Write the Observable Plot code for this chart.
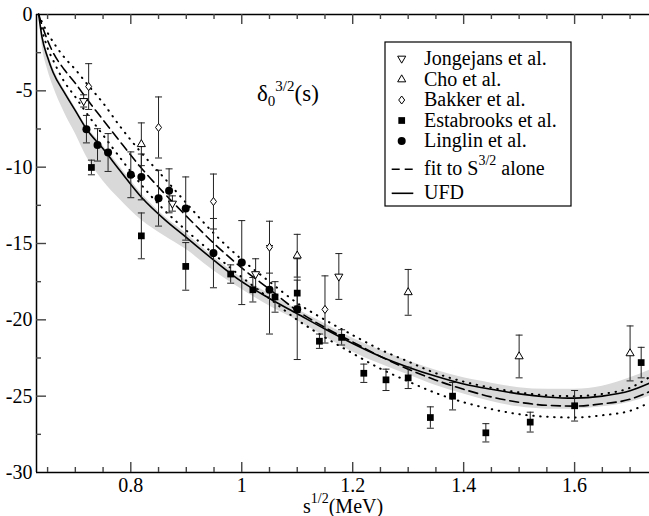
<!DOCTYPE html>
<html><head><meta charset="utf-8">
<script src="https://cdn.jsdelivr.net/npm/d3@7"></script>
<script src="https://cdn.jsdelivr.net/npm/@observablehq/plot@0.6"></script>
<style>
body{margin:0;background:white;}
#wrap{position:relative;width:649px;height:516px;}
#wrap svg{position:absolute;left:0;top:0;}
</style></head><body><div id="wrap"></div>
<script>
const W = 649, H = 516;
const mL = 36, mR = 0, mT = 14, mB = 44;
const plotW = W - mL - mR, plotH = H - mT - mB;
const FONT = "'Liberation Serif'";

const xDomain = [0.63, 1.735];
const yDomain = [-30, 0];
const xTickMajor = [0.8, 1, 1.2, 1.4, 1.6];
const xTickMinor = [0.65,0.7,0.75,0.85,0.9,0.95,1.05,1.1,1.15,1.25,1.3,1.35,1.45,1.5,1.55,1.65,1.7];
const yTickMajor = [-30,-25,-20,-15,-10,-5,0];
const yTickMinor = [-27.5,-22.5,-17.5,-12.5,-7.5,-2.5];

const seriesNames = ["Jongejans et al.", "Cho et al.", "Bakker et al.", "Estabrooks et al.", "Linglin et al."];
const curveNames = ["fit to S", "UFD"];

// data points
const jongX = [0.715, 0.875, 1.025, 1.175];
const jongY = [-5.66, -12.38, -17.0, -17.16];
const jongE = [0.4, 0.5, 1.0, 1.5];
const choX = [0.819, 1.10, 1.30, 1.50, 1.70];
const choY = [-8.5, -15.8, -18.2, -22.4, -22.2];
const choE = [1.4, 1.4, 1.5, 1.4, 1.8];
const bakX = [0.724, 0.85, 0.949, 1.05, 1.15];
const bakY = [-4.72, -7.4, -12.25, -15.24, -19.32];
const bakE = [1.5, 2.0, 1.8, 1.7, 2.2];
const estX = [0.729,0.819,0.899,0.98,1.02,1.06,1.10,1.14,1.18,1.22,1.26,1.30,1.34,1.38,1.44,1.52,1.60,1.72];
const estY = [-10.02,-14.5,-16.5,-17.0,-18.03,-18.5,-18.25,-21.4,-21.15,-23.5,-23.93,-23.8,-26.4,-25.0,-27.4,-26.7,-25.63,-22.8];
const estE = [0.48,1.5,1.56,0.6,0.8,1.0,0.85,0.47,0.5,0.6,0.7,0.7,0.7,0.9,0.6,0.65,1.0,1.0];
const linX = [0.72,0.74,0.759,0.80,0.819,0.85,0.869,0.899,0.949,1.0,1.05,1.10];
const linY = [-7.51,-8.54,-9.04,-10.5,-10.64,-12.03,-11.55,-12.71,-15.63,-16.25,-18.03,-19.3];
const linE = [0.9,1.06,1.24,1.5,1.5,1.83,1.44,2.07,2.27,2.75,2.9,3.3];

// curves on a shared x grid
const curveX  = [0.634,0.64,0.65,0.66,0.68,0.70,0.72,0.75,0.78,0.82,0.86,0.90,0.95,1.0,1.05,1.1,1.15,1.2,1.25,1.3,1.35,1.4,1.45,1.5,1.55,1.6,1.65,1.7,1.735];
const ufdY    = [0,-1.5,-2.8,-3.8,-5.1,-6.3,-7.5,-8.8,-10.2,-12.0,-13.4,-14.6,-16.1,-17.5,-18.6,-19.6,-20.6,-21.55,-22.4,-23.1,-23.7,-24.2,-24.55,-24.85,-25.05,-25.13,-25.0,-24.65,-24.15];
const ufdLo   = [0,-2.0,-3.6,-4.7,-6.4,-7.8,-9.3,-10.9,-12.1,-13.5,-14.5,-15.4,-16.8,-18.0,-19.1,-20.05,-21.1,-22.1,-22.9,-23.6,-24.3,-24.85,-25.35,-25.7,-25.85,-25.85,-25.7,-25.4,-25.0];
const ufdHi   = [0,-1.2,-2.5,-3.5,-4.9,-6.1,-7.3,-8.6,-9.95,-11.75,-13.2,-14.35,-15.9,-17.25,-18.3,-19.3,-20.25,-21.2,-22.0,-22.7,-23.3,-23.8,-24.15,-24.45,-24.55,-24.55,-24.35,-23.8,-23.3];
const fitY    = [0,-0.7,-1.7,-2.5,-3.6,-4.5,-5.5,-6.9,-8.3,-10.1,-11.7,-13.2,-15.0,-16.6,-18.0,-19.4,-20.5,-21.45,-22.4,-23.23,-23.95,-24.55,-25.05,-25.4,-25.6,-25.65,-25.5,-25.2,-24.7];
const fitHi   = [0,-0.5,-1.2,-1.8,-2.8,-3.6,-4.5,-5.8,-7.3,-9.1,-10.7,-12.35,-14.35,-16.05,-17.5,-18.9,-20.0,-21.0,-21.95,-22.73,-23.5,-24.05,-24.45,-24.75,-24.95,-25.0,-24.85,-24.45,-23.75];
const fitLo   = [0,-1.0,-2.2,-3.0,-4.4,-5.4,-6.45,-7.9,-9.35,-11.2,-12.8,-14.15,-15.7,-17.2,-18.6,-20.0,-21.15,-22.2,-23.2,-24.03,-24.8,-25.4,-25.85,-26.18,-26.35,-26.4,-26.25,-25.96,-25.42];

const pts = (xs, ys, es) => xs.map((x, i) => ({x, y: ys[i], e: es[i]}));
const jong = pts(jongX, jongY, jongE);
const cho = pts(choX, choY, choE);
const bak = pts(bakX, bakY, bakE);
const est = pts(estX, estY, estE);
const lin = pts(linX, linY, linE);
const allPts = [...jong, ...cho, ...bak, ...est, ...lin];

const curves = curveX.map((x, i) => ({x, ufd: ufdY[i], lo: ufdLo[i], hi: ufdHi[i], fit: fitY[i], fhi: fitHi[i], flo: fitLo[i]}));

const capSymbol = {draw(ctx) { ctx.moveTo(-3.5, 0); ctx.lineTo(3.5, 0); }};
const diamondSymbol = {draw(ctx) { ctx.moveTo(0, -4); ctx.lineTo(3, 0); ctx.lineTo(0, 4); ctx.lineTo(-3, 0); ctx.closePath(); }};

const barColor = "#222";
const tickColor = "#444";

const chart = Plot.plot({
  width: W, height: H,
  marginLeft: mL, marginRight: mR, marginTop: mT, marginBottom: mB,
  x: {domain: xDomain},
  y: {domain: yDomain},
  style: {fontSize: "20px", background: "white", color: "black"},
  marks: [
    Plot.areaY(curves, {x: "x", y1: "lo", y2: "hi", fill: "#d9d9d9", curve: "monotone-x"}),
    Plot.line(curves, {x: "x", y: "fhi", stroke: "black", strokeWidth: 2, strokeDasharray: "0.5,6.5", strokeLinecap: "round", curve: "monotone-x"}),
    Plot.line(curves, {x: "x", y: "flo", stroke: "black", strokeWidth: 2, strokeDasharray: "0.5,6.5", strokeLinecap: "round", curve: "monotone-x"}),
    Plot.line(curves, {x: "x", y: "fit", stroke: "black", strokeWidth: 1.6, strokeDasharray: "9,5", curve: "monotone-x"}),
    Plot.line(curves, {x: "x", y: "ufd", stroke: "black", strokeWidth: 1.6, curve: "monotone-x"}),
    // error bars
    Plot.ruleX(allPts, {x: "x", y1: d => d.y - d.e, y2: d => d.y + d.e, stroke: barColor, strokeWidth: 1}),
    Plot.dot(allPts, {x: "x", y: d => d.y + d.e, symbol: capSymbol, stroke: barColor, fill: "none", strokeWidth: 1, r: 3}),
    Plot.dot(allPts, {x: "x", y: d => d.y - d.e, symbol: capSymbol, stroke: barColor, fill: "none", strokeWidth: 1, r: 3}),
    // markers
    Plot.dot(jong, {x: "x", y: "y", symbol: "triangle", rotate: 180, r: 3, fill: "white", stroke: "black", strokeWidth: 1}),
    Plot.dot(cho, {x: "x", y: "y", symbol: "triangle", r: 3, fill: "white", stroke: "black", strokeWidth: 1}),
    Plot.dot(bak, {x: "x", y: "y", symbol: diamondSymbol, r: 3, fill: "white", stroke: "black", strokeWidth: 1}),
    Plot.dot(est, {x: "x", y: "y", symbol: "square", r: 3.8, fill: "black", stroke: "none"}),
    Plot.dot(lin, {x: "x", y: "y", symbol: "circle", r: 4, fill: "black", stroke: "none"}),
    // frame lines
    Plot.ruleY([yDomain[0]], {stroke: "black", strokeWidth: 1.5}),
    Plot.ruleY([yDomain[1]], {stroke: "black", strokeWidth: 1.5}),
    Plot.ruleX([xDomain[0]], {stroke: "black", strokeWidth: 1.5}),
    // inward ticks
    Plot.tickX(xTickMajor, {x: d => d, insetTop: plotH - 10, stroke: tickColor, strokeWidth: 1.4}),
    Plot.tickX(xTickMinor, {x: d => d, insetTop: plotH - 5, stroke: tickColor, strokeWidth: 1.4}),
    Plot.tickX(xTickMajor, {x: d => d, insetBottom: plotH - 10, stroke: tickColor, strokeWidth: 1.4}),
    Plot.tickX(xTickMinor, {x: d => d, insetBottom: plotH - 5, stroke: tickColor, strokeWidth: 1.4}),
    Plot.tickY(yTickMajor.slice(1, -1), {y: d => d, insetRight: plotW - 10, stroke: tickColor, strokeWidth: 1.4}),
    Plot.tickY(yTickMinor, {y: d => d, insetRight: plotW - 5, stroke: tickColor, strokeWidth: 1.4}),
    // labels
    Plot.axisX({ticks: xTickMajor, tickSize: 0, tickPadding: 5, tickFormat: d => String(d), label: null, fontSize: 20, fontFamily: FONT}),
    Plot.axisY({ticks: yTickMajor, tickSize: 0, tickPadding: 4, tickFormat: d => String(d), label: null, fontSize: 20, fontFamily: FONT})
  ]
});
document.getElementById("wrap").appendChild(chart);

// overlay: legend and annotations
const ov = d3.select("#wrap").append("svg")
  .attr("width", W).attr("height", H)
  .style("pointer-events", "none");

// annotation
const ann = ov.append("text").attr("x", 257).attr("y", 101).attr("font-size", 23).attr("font-family", FONT).attr("fill", "black");
ann.append("tspan").text("δ");
ann.append("tspan").attr("font-size", 15).attr("dy", 5).text("0");
ann.append("tspan").attr("font-size", 15).attr("dy", -15).text("3/2");
ann.append("tspan").attr("dy", 10).text("(s)");

// x axis title
const xt = ov.append("text").attr("x", 303).attr("y", 513).attr("font-size", 20).attr("font-family", FONT).attr("fill", "black");
xt.append("tspan").text("s");
xt.append("tspan").attr("font-size", 14).attr("dy", -10).text("1/2");
xt.append("tspan").attr("dy", 10).text("(MeV)");

// legend
const lg = ov.append("g").attr("transform", "translate(385,42)").attr("font-family", FONT);
lg.append("rect").attr("width", 186).attr("height", 164).attr("fill", "white").attr("stroke", "black").attr("stroke-width", 1.2);
const rowY = [16.5, 37.5, 58, 78.5, 99];
const symX = 16.7, txtX = 39;
const area = Math.PI * 9;
lg.append("path").attr("d", d3.symbol(d3.symbolTriangle, area)()).attr("transform", `translate(${symX},${rowY[0]}) rotate(180)`).attr("fill", "white").attr("stroke", "black");
lg.append("path").attr("d", d3.symbol(d3.symbolTriangle, area)()).attr("transform", `translate(${symX},${rowY[1]})`).attr("fill", "white").attr("stroke", "black");
lg.append("path").attr("d", "M0,-4L3,0L0,4L-3,0Z").attr("transform", `translate(${symX},${rowY[2]})`).attr("fill", "white").attr("stroke", "black");
lg.append("path").attr("d", d3.symbol(d3.symbolSquare, Math.PI * 3.8 * 3.8)()).attr("transform", `translate(${symX},${rowY[3]})`).attr("fill", "black");
lg.append("path").attr("d", d3.symbol(d3.symbolCircle, Math.PI * 16)()).attr("transform", `translate(${symX},${rowY[4]})`).attr("fill", "black");
seriesNames.forEach((n, i) => {
  lg.append("text").attr("x", txtX).attr("y", rowY[i] + 6).attr("font-size", 20).attr("fill", "black").text(n);
});
const fitRow = 127.3, ufdRow = 151.3;
lg.append("line").attr("x1", 6.7).attr("x2", 28.3).attr("y1", fitRow).attr("y2", fitRow).attr("stroke", "black").attr("stroke-width", 1.6).attr("stroke-dasharray", "8,5");
lg.append("line").attr("x1", 6.7).attr("x2", 28.3).attr("y1", ufdRow).attr("y2", ufdRow).attr("stroke", "black").attr("stroke-width", 1.6);
const ft = lg.append("text").attr("x", txtX).attr("y", fitRow + 6).attr("font-size", 20).attr("fill", "black");
ft.append("tspan").text(curveNames[0]);
ft.append("tspan").attr("font-size", 14).attr("dy", -10).text("3/2");
ft.append("tspan").attr("dy", 10).text(" alone");
lg.append("text").attr("x", txtX).attr("y", ufdRow + 6).attr("font-size", 20).attr("fill", "black").text(curveNames[1]);
</script></body></html>
